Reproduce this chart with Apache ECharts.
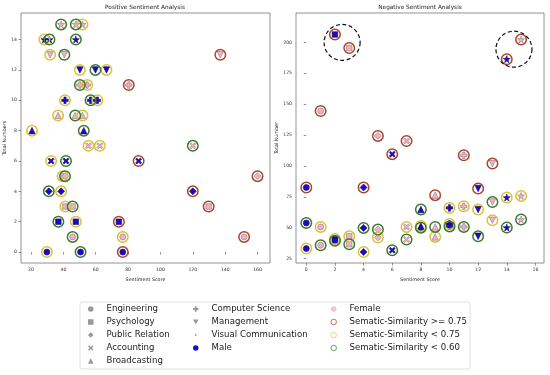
<!DOCTYPE html>
<html><head><meta charset="utf-8">
<script src="https://cdn.jsdelivr.net/npm/echarts@6/dist/echarts.min.js"></script>
<style>html,body{margin:0;padding:0;background:#fff}#c{width:550px;height:375px}</style>
</head><body><div id="c"></div><script>
// ---------------- DATA ----------------
const majors = ['Engineering','Psychology','Public Relation','Accounting','Broadcasting','Computer Science','Management','Visual Communication'];
const genders = ['Male','Female'];
const simLabels = ['Sematic-Similarity >= 0.75','Sematic-Similarity < 0.75','Sematic-Similarity < 0.60'];
// group index = 2*major + gender (0 male, 1 female); sim class: 0 >=0.75, 1 <0.75, 2 <0.60
// Positive panel: x = sentiment score, y = group
const posGroup = [0,0,0, 1,1,1, 2,2,2, 3,3,3, 4,4,4, 5,5,5, 6,6,6, 7,7,7, 8,8, 9,9,9, 10,10,10, 11,11,11, 12,12,12, 13,13,13, 14,14,14, 15,15,15];
const posScore = [29.8,50.6,76.7, 45.7,76.7,151.7, 36.9,47.7,74.3, 41.2,45.7,129.8, 31,38.6,120, 39.5,41,160, 32.4,41.6,86.5, 55.5,62.5,120, 20.6,52.6, 36.7,47.3,51.8, 41,56.8,61, 50.2,54.7,80.4, 50.2,59.8,66.6, 31.8,40.6,137, 28.3,31.4,47.7, 38.6,47.7,51.8];
const posSim   = [1,2,0, 2,1,0, 2,1,0, 1,2,0, 2,1,0, 1,2,0, 1,2,0, 1,1,2, 1,2, 1,2,1, 1,2,1, 2,1,0, 1,2,1, 1,2,0, 1,2,2, 2,2,1];
// Negative panel: x = group, y = value
const negGroup = [0,0,0, 1,1,1, 2,2,2, 3,3,3, 4,4,4, 5,5,5, 6,6, 7,7,7, 8,8,8, 9,9,9, 10,10,10, 11,11,11, 12,12,12, 13,13,13, 14,14,14, 15,15,15];
const negValue = [82.5,53.8,33.1, 144.5,50.6,35.8, 206.4,40.8,39.5, 195.5,43,36.6, 82.5,49.8,30.3, 124.3,48.5,42, 109.5,31.7, 120.2,50.6,40.4, 64.7,51.3,50.0, 76.3,50.6,42.5, 66,53,51, 108.6,67.3,50.6, 81.7,64.7,43, 101.9,70.8,56, 186.4,74.4,50.1, 202.3,75.7,56.6];
const negSim   = [0,2,1, 0,1,2, 0,1,2, 0,1,2, 0,2,1, 0,2,1, 0,2, 0,1,2, 2,1,2, 0,2,1, 1,1,2, 0,1,2, 0,1,2, 0,2,1, 0,1,2, 0,1,2];
// dashed highlight circles (negative panel)
const highlightX = [2.5, 14.5];
const highlightY = [200, 194.5];
// axis tick steps
const posXStep = 20, posYStep = 2, negXStep = 2, negYStep = 25;

// ---------------- STYLE ----------------
const FONT = 'DejaVu Sans';
const xPath = 'path://M0,2L2,0L5,3L8,0L10,2L7,5L10,8L8,10L5,7L2,10L0,8L3,5Z';
const plusPath = 'path://M3.3,0H6.7V3.3H10V6.7H6.7V10H3.3V6.7H0V3.3H3.3Z';
const downPath = 'path://M0,0L10,0L5,9Z';
const starPath = 'path://M5,0L6.2,3.6L10,3.6L6.9,5.9L8.1,9.5L5,7.3L1.9,9.5L3.1,5.9L0,3.6L3.8,3.6Z';
// small star inside a larger (invisible) bounding box, for the legend icon
const smallStarPath = 'path://M0,0L0.01,0L0,0.01ZM20,20L19.99,20L20,19.99ZM10,5L11.2,8.6L15,8.6L11.9,10.9L13.1,14.5L10,12.3L6.9,14.5L8.1,10.9L5,8.6L8.8,8.6Z';
const shapes = ['circle','rect','diamond',xPath,'triangle',plusPath,downPath,starPath];
const shapeSize = [6,5.5,7,6,6.5,6.5,6.5,7];
const genderFill = ['#1e0ac4','#eab4c4'];
const genderEdge = ['#16086a','#9a7080'];
const simColor = ['#a8452f','#d9c23c','#3c7a2c'];

function markerItems(groups, xs, ys, g) {
  const out = [];
  groups.forEach((grp, i) => {
    if (grp % 2 !== g) return;
    const m = Math.floor(grp / 2);
    out.push({value: [xs[i], ys[i]], symbol: shapes[m], symbolSize: shapeSize[m]});
  });
  return out;
}
function ringItems(groups, xs, ys, sims, s) {
  const out = [];
  groups.forEach((grp, i) => { if (sims[i] === s) out.push([xs[i], ys[i]]); });
  return out;
}

const series = [];
const panels = [
  {x: posScore, y: posGroup, sims: posSim, groups: posGroup},
  {x: negGroup, y: negValue, sims: negSim, groups: negGroup}
];
panels.forEach((p, pi) => {
  for (let g = 0; g < 2; g++) {
    series.push({
      name: genders[g], type: 'scatter', xAxisIndex: pi, yAxisIndex: pi, z: 3,
      data: markerItems(p.groups, p.x, p.y, g),
      itemStyle: {color: genderFill[g], borderColor: genderEdge[g], borderWidth: 0.6, opacity: 1},
      emphasis: {disabled: true}, silent: true
    });
  }
  for (let s = 0; s < 3; s++) {
    series.push({
      name: simLabels[s], type: 'scatter', xAxisIndex: pi, yAxisIndex: pi, z: 4,
      symbol: 'circle', symbolSize: 10.5,
      data: ringItems(p.groups, p.x, p.y, p.sims, s),
      itemStyle: {color: 'rgba(0,0,0,0)', borderColor: simColor[s], borderWidth: 1.5, opacity: 1},
      emphasis: {disabled: true}, silent: true
    });
  }
});
series.push({
  name: 'highlight', type: 'scatter', xAxisIndex: 1, yAxisIndex: 1, z: 5,
  symbol: 'circle', symbolSize: 36,
  data: highlightX.map((x, i) => [x, highlightY[i]]),
  itemStyle: {color: 'rgba(0,0,0,0)', borderColor: '#111', borderWidth: 1.2, borderType: [4, 2.5], opacity: 1},
  emphasis: {disabled: true}, silent: true
});
majors.forEach(m => series.push({name: m, type: 'scatter', data: [], xAxisIndex: 0, yAxisIndex: 0}));

const grey = '#808080';
function legendItem(name, icon, style) { return {name, icon, itemStyle: style}; }
const legendText = {fontFamily: FONT, fontSize: 8.6, color: '#222', lineHeight: 10, padding: [0, 0, 0, 8]};
const legendBase = {orient: 'vertical', itemWidth: 5.5, itemHeight: 5.5, itemGap: 3, top: 304, selectedMode: false, textStyle: legendText, padding: 0};

const axisLabelStyle = {fontFamily: FONT, fontSize: 4.6, color: '#333'};
function valAxis(gi, min, max, step, name, gap) {
  return {
    type: 'value', gridIndex: gi, min, max, minInterval: step, maxInterval: step, splitNumber: 8,
    name, nameLocation: 'middle', nameGap: gap,
    nameTextStyle: {fontFamily: FONT, fontSize: 4.8, color: '#222'},
    axisLine: {show: false}, splitLine: {show: false},
    axisTick: {show: true, length: 2.5, lineStyle: {color: '#444', width: 0.6}},
    axisLabel: Object.assign({showMinLabel: false, showMaxLabel: false, margin: 4}, axisLabelStyle)
  };
}

const option = {
  animation: false,
  backgroundColor: '#fff',
  grid: [
    {left: 21, top: 13, width: 249, height: 250, show: true, borderColor: '#777', borderWidth: 0.8, backgroundColor: '#fff'},
    {left: 296, top: 13, width: 248, height: 250, show: true, borderColor: '#777', borderWidth: 0.8, backgroundColor: '#fff'}
  ],
  xAxis: [
    valAxis(0, 13.8, 167.7, posXStep, 'Sentiment Score', 9),
    valAxis(1, -0.72, 16.6, negXStep, 'Sentiment Score', 9)
  ],
  yAxis: [
    valAxis(0, -0.72, 15.75, posYStep, 'Total Numbers', 11),
    valAxis(1, 21.4, 223.8, negYStep, 'Total Number', 11)
  ],
  legend: [
    Object.assign({}, legendBase, {left: 88, data: [
      legendItem(majors[0], 'circle', {color: grey}),
      legendItem(majors[1], 'rect', {color: grey}),
      legendItem(majors[2], 'diamond', {color: grey}),
      legendItem(majors[3], xPath, {color: grey}),
      legendItem(majors[4], 'triangle', {color: grey})
    ]}),
    Object.assign({}, legendBase, {left: 193, data: [
      legendItem(majors[5], plusPath, {color: grey}),
      legendItem(majors[6], downPath, {color: grey}),
      legendItem(majors[7], smallStarPath, {color: grey}),
      legendItem(genders[0], 'circle', {color: '#1010e0', borderWidth: 0})
    ]}),
    Object.assign({}, legendBase, {left: 330.5, data: [
      legendItem(genders[1], 'circle', {color: '#f2c4cc', borderWidth: 0}),
      legendItem(simLabels[0], 'circle', {color: 'rgba(0,0,0,0)', borderColor: '#c0604e', borderWidth: 0.9}),
      legendItem(simLabels[1], 'circle', {color: 'rgba(0,0,0,0)', borderColor: '#e2d46a', borderWidth: 0.9}),
      legendItem(simLabels[2], 'circle', {color: 'rgba(0,0,0,0)', borderColor: '#4aa04a', borderWidth: 0.9})
    ]})
  ],
  graphic: [
    {type: 'rect', shape: {x: 80, y: 302, width: 390, height: 67, r: 2}, style: {fill: '#fff', stroke: '#d8d8d8', lineWidth: 0.8}, z: -1, silent: true},
    {type: 'text', x: 145, y: 7.5, style: {text: 'Positive Sentiment Analysis', fontFamily: FONT, fontSize: 5.8, fill: '#222', textAlign: 'center', textVerticalAlign: 'middle'}},
    {type: 'text', x: 420, y: 7.5, style: {text: 'Negative Sentiment Analysis', fontFamily: FONT, fontSize: 5.8, fill: '#222', textAlign: 'center', textVerticalAlign: 'middle'}}
  ],
  series
};
const chart = echarts.init(document.getElementById('c'), null, {renderer: 'canvas'});
chart.setOption(option);
</script></body></html>
